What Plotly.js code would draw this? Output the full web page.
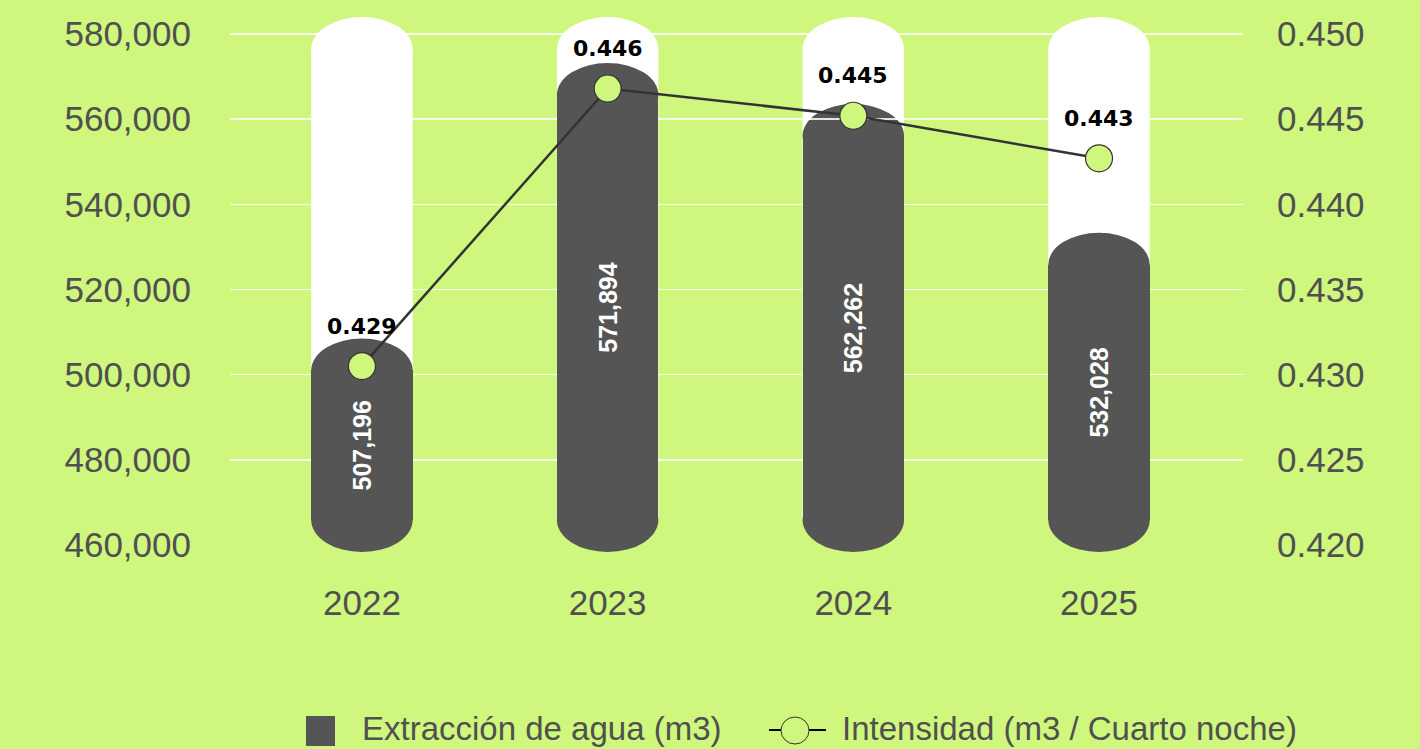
<!DOCTYPE html>
<html>
<head>
<meta charset="utf-8">
<script src="https://cdn.plot.ly/plotly-3.0.1.min.js"></script>
<style>
  html, body { margin: 0; padding: 0; background: #cff67d; overflow: hidden; }
  #chart { width: 1420px; height: 749px; }
</style>
</head>
<body>
<div id="chart"></div>
<script>
// ---- data ----
const years = ['2022', '2023', '2024', '2025'];
const extraccion = [507196, 571894, 562262, 532028];
const intensidad = [0.4305, 0.4468, 0.4452, 0.4427];
const intensidadLabels = ['0.429', '0.446', '0.445', '0.443'];
const leftTickVals = [460000, 480000, 500000, 520000, 540000, 560000, 580000];
const rightTickVals = [0.420, 0.425, 0.430, 0.435, 0.440, 0.445, 0.450];
const gridVals = [480000, 500000, 520000, 540000, 560000, 580000];
const seriesNames = ['Extracción de agua (m3)', 'Intensidad (m3 / Cuarto noche)'];

// ---- style constants ----
const BG = '#cff67d';
const DARK = '#555555';
const LINE = '#333333';
const HALF = 0.2065;        // half pill width in category units
const PILL_BOTTOM = 458350; // bottom of pills
const PILL_TOP = 584000;    // top of white background pills
const CAP = 7500;           // half-height of elliptical caps
const OVER = 1300;          // cap overshoot above value

// plot area in pixels (margins)
const M = {l: 230, r: 177, t: 10, b: 189};
const PW = 1420 - M.l - M.r, PH = 749 - M.t - M.b;
const px = v => (v - M.l) / PW;          // page x px -> paper
const py = v => (749 - M.b - v) / PH;    // page y px -> paper

const shapes = [];
years.forEach((y, i) => {
  shapes.push({type: 'rect', xref: 'x', yref: 'y', layer: 'below', x0: i - HALF, x1: i + HALF,
    y0: PILL_BOTTOM + CAP, y1: PILL_TOP - CAP, fillcolor: '#ffffff', line: {width: 0}});
  shapes.push({type: 'circle', xref: 'x', yref: 'y', layer: 'below', x0: i - HALF, x1: i + HALF,
    y0: PILL_TOP - 2 * CAP, y1: PILL_TOP, fillcolor: '#ffffff', line: {width: 0}});
});
years.forEach((y, i) => {
  const top = extraccion[i] + OVER;
  shapes.push({type: 'circle', xref: 'x', yref: 'y', layer: 'below', x0: i - HALF, x1: i + HALF,
    y0: top - 2 * CAP, y1: top, fillcolor: DARK, line: {width: 0}});
  shapes.push({type: 'circle', xref: 'x', yref: 'y', layer: 'below', x0: i - HALF, x1: i + HALF,
    y0: PILL_BOTTOM, y1: PILL_BOTTOM + 2 * CAP, fillcolor: DARK, line: {width: 0}});
});

// ---- legend (drawn in paper coordinates) ----
const LY = 730; // legend row centre (px)
shapes.push({type: 'rect', xref: 'paper', yref: 'paper', layer: 'above',
  x0: px(306), x1: px(335), y0: py(LY + 16), y1: py(LY - 14), fillcolor: DARK, line: {width: 0}});
shapes.push({type: 'line', xref: 'paper', yref: 'paper', layer: 'above',
  x0: px(769), x1: px(782), y0: py(LY), y1: py(LY), line: {color: '#000000', width: 2}});
shapes.push({type: 'line', xref: 'paper', yref: 'paper', layer: 'above',
  x0: px(808), x1: px(826), y0: py(LY), y1: py(LY), line: {color: '#000000', width: 2}});
shapes.push({type: 'circle', xref: 'paper', yref: 'paper', layer: 'above',
  x0: px(781), x1: px(809), y0: py(LY + 14), y1: py(LY - 13), fillcolor: BG, line: {color: LINE, width: 1}});

const legendFont = {family: 'Liberation Sans, Arial, sans-serif', size: 33, color: '#505050'};

const barTrace = {
  type: 'bar',
  name: seriesNames[0],
  x: years,
  y: extraccion.map(v => (v + OVER - CAP) - (PILL_BOTTOM + CAP)),
  base: extraccion.map(() => PILL_BOTTOM + CAP),
  width: extraccion.map(() => 2 * HALF),
  marker: {color: DARK, line: {width: 0}},
  text: extraccion.map(v => v.toLocaleString('en-US')),
  textposition: 'inside',
  insidetextanchor: 'middle',
  textangle: -90,
  constraintext: 'none',
  textfont: {family: 'Liberation Sans, Arial, sans-serif', size: 25, color: '#ffffff', weight: 'bold'},
  hoverinfo: 'skip',
  showlegend: false,
  yaxis: 'y'
};

const lineTrace = {
  type: 'scatter',
  mode: 'lines+markers',
  name: seriesNames[1],
  x: years,
  y: intensidad,
  yaxis: 'y2',
  line: {color: LINE, width: 2.5},
  marker: {size: 27, color: BG, line: {color: LINE, width: 1.2}},
  hoverinfo: 'skip',
  showlegend: false
};

const annotations = years.map((y, i) => ({
  x: i, y: intensidad[i], xref: 'x', yref: 'y2',
  text: intensidadLabels[i], showarrow: false, yshift: 40,
  font: {family: 'DejaVu Sans, sans-serif', size: 22, color: '#000000', weight: 'bold'}
}));
annotations.push({xref: 'paper', yref: 'paper', x: px(361), y: py(LY - 2), xanchor: 'left', yanchor: 'middle',
  borderpad: 0, text: seriesNames[0], showarrow: false, font: legendFont});
annotations.push({xref: 'paper', yref: 'paper', x: px(841), y: py(LY - 2), xanchor: 'left', yanchor: 'middle',
  borderpad: 0, text: seriesNames[1], showarrow: false, font: legendFont});

const tickFont = {family: 'Liberation Sans, Arial, sans-serif', size: 35, color: '#505050'};

const layout = {
  width: 1420, height: 749,
  margin: {l: M.l, r: M.r, t: M.t, b: M.b, pad: 0, autoexpand: false},
  paper_bgcolor: BG,
  plot_bgcolor: BG,
  showlegend: false,
  bargap: 0,
  xaxis: {
    type: 'category',
    range: [-0.537, 3.586],
    showgrid: false, zeroline: false, showline: false,
    ticks: 'outside', ticklen: 12, tickcolor: 'rgba(0,0,0,0)',
    tickfont: tickFont, fixedrange: true
  },
  yaxis: {
    range: [456477, 585636],
    tickvals: leftTickVals,
    tickformat: ',',
    showgrid: false, zeroline: false, showline: false,
    ticks: 'outside', ticklen: 31, tickcolor: 'rgba(0,0,0,0)',
    tickfont: tickFont
  },
  yaxis2: {
    range: [0.419119, 0.451409],
    overlaying: 'y', side: 'right',
    tickvals: rightTickVals,
    tickformat: '.3f',
    showgrid: false, zeroline: false, showline: false,
    ticks: 'outside', ticklen: 26, tickcolor: 'rgba(0,0,0,0)',
    tickfont: tickFont
  },
  yaxis3: {
    range: [456477, 585636],
    overlaying: 'y', anchor: 'x',
    tickvals: gridVals,
    showticklabels: false, ticks: '',
    showgrid: true, gridcolor: 'rgba(255,255,255,0.85)', gridwidth: 1.5,
    zeroline: false, showline: false
  },
  shapes: shapes,
  annotations: annotations
};

const gridTrace = {
  type: 'scatter', mode: 'markers', x: years, y: extraccion, yaxis: 'y3',
  marker: {opacity: 0}, showlegend: false, hoverinfo: 'skip'
};

Plotly.newPlot('chart', [gridTrace, barTrace, lineTrace], layout, {displayModeBar: false, staticPlot: true});
</script>
</body>
</html>
